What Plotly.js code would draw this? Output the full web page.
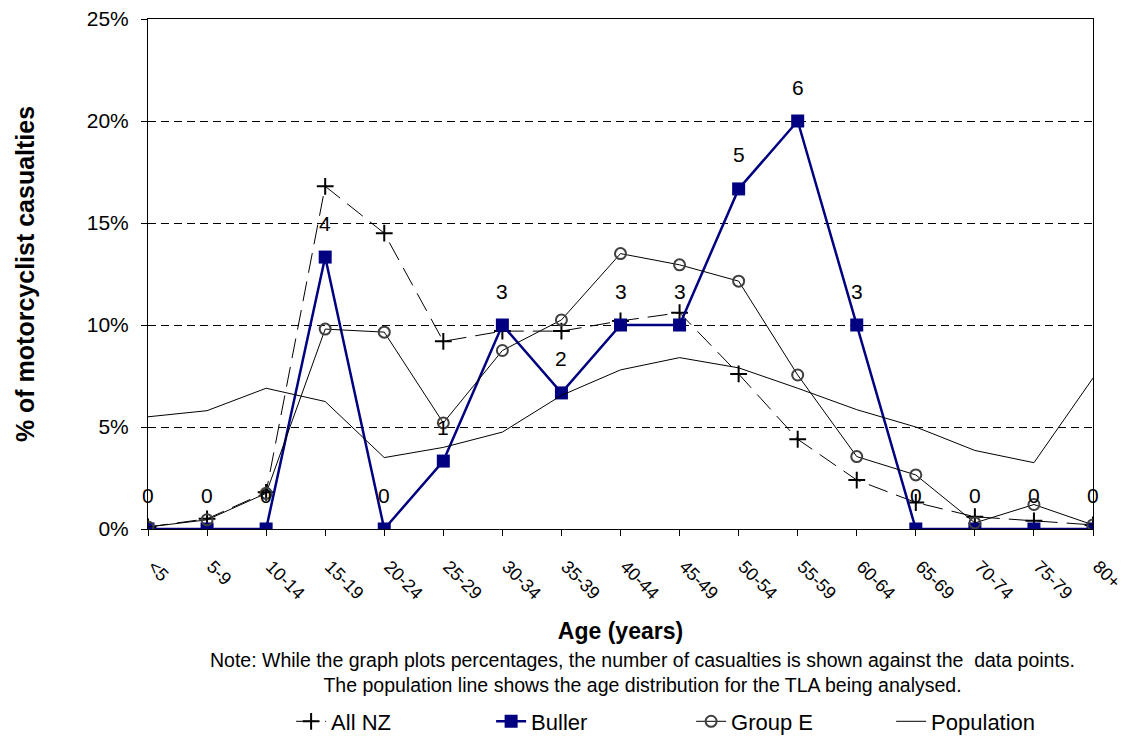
<!DOCTYPE html>
<html>
<head>
<meta charset="utf-8">
<script src="https://cdn.plot.ly/plotly-3.0.1.min.js"></script>
<style>html,body{margin:0;padding:0;background:#fff;}#chart{width:1124px;height:740px;}</style>
</head>
<body>
<div id="chart"></div>
<script>
const ageGroups = ["<5","5-9","10-14","15-19","20-24","25-29","30-34","35-39","40-44","45-49","50-54","55-59","60-64","65-69","70-74","75-79","80+"];
const allNZ = [0.1,0.5,1.8,16.8,14.5,9.2,9.7,9.7,10.2,10.6,7.6,4.4,2.4,1.3,0.6,0.4,0.2];
const buller = [0,0,0,13.33,0,3.33,10,6.67,10,10,16.67,20,10,0,0,0,0];
const bullerCounts = [0,0,0,4,0,1,3,2,3,3,5,6,3,0,0,0,0];
const groupE = [0.1,0.45,1.75,9.8,9.65,5.2,8.75,10.25,13.5,12.95,12.15,7.55,3.55,2.65,0.3,1.2,0.2];
const population = [5.5,5.8,6.9,6.25,3.5,4.0,4.75,6.55,7.8,8.4,7.9,6.9,5.85,5.0,3.85,3.25,7.4];
const seriesNames = ["All NZ","Buller","Group E","Population"];
const noteLines = ["Note: While the graph plots percentages, the number of casualties is shown against the  data points.","The population line shows the age distribution for the TLA being analysed."];

const FONT = "Liberation Sans, Arial, sans-serif";

const traces = [
  {x: ageGroups, y: allNZ, name: seriesNames[0], type: "scatter", mode: "lines+markers",
   line: {color: "#000", width: 1, dash: "20px,9px"},
   marker: {symbol: "cross-thin", size: 12, line: {color: "#000", width: 2}, color: "#000"}},
  {x: ageGroups, y: buller, name: seriesNames[1], type: "scatter", mode: "lines+markers",
   line: {color: "#000080", width: 2.5},
   marker: {symbol: "square", size: 13, color: "#000080"}},
  {x: ageGroups, y: groupE, name: seriesNames[2], type: "scatter", mode: "lines+markers",
   line: {color: "#000", width: 1},
   marker: {symbol: "circle-open", size: 11, line: {color: "#404040", width: 2}, color: "#404040"}},
  {x: ageGroups, y: population, name: seriesNames[3], type: "scatter", mode: "lines",
   line: {color: "#000", width: 1}}
];

const annotations = ageGroups.map((g, i) => ({
  x: g, y: buller[i], xref: "x", yref: "y", text: String(bullerCounts[i]),
  showarrow: false, yshift: 34, font: {family: FONT, size: 21, color: "#000"}
}));
annotations.push({
  xref: "paper", yref: "paper", x: 0.523, y: -0.282, xanchor: "center", yanchor: "middle",
  text: noteLines.join("<br>"), showarrow: false, align: "center",
  font: {family: FONT, size: 19.5, color: "#000"}
});

const layout = {
  width: 1124, height: 740,
  margin: {l: 148, r: 31, t: 19, b: 211},
  paper_bgcolor: "#fff", plot_bgcolor: "#fff",
  font: {family: FONT, color: "#000"},
  showlegend: true,
  legend: {orientation: "h", xref: "container", yref: "container", x: 0.259, xanchor: "left", y: 0.025, yanchor: "middle",
           font: {family: FONT, size: 22, color: "#000"}, entrywidth: 155, traceorder: "normal"},
  xaxis: {
    type: "category", range: [0, 16], showgrid: false,
    showline: true, linecolor: "#000", linewidth: 1, mirror: true,
    ticks: "outside", ticklen: 6, tickcolor: "#000", tickangle: 45,
    ticklabelstandoff: 13, ticklabelshift: 5,
    tickfont: {family: FONT, size: 18, color: "#000"},
    title: {text: "<b>Age (years)</b>", font: {family: FONT, size: 23, color: "#000"}, standoff: 20},
    automargin: false, zeroline: false
  },
  yaxis: {
    range: [0, 25], dtick: 5, ticksuffix: "%",
    showgrid: true, gridcolor: "#000", gridwidth: 1, griddash: "8px,5px",
    showline: true, linecolor: "#000", linewidth: 1, mirror: true,
    ticks: "outside", ticklen: 6, tickcolor: "#000", ticklabelstandoff: 8,
    tickfont: {family: FONT, size: 21, color: "#000"},
    title: {text: "<b>% of motorcyclist casualties</b>", font: {family: FONT, size: 25, color: "#000"}, standoff: 45},
    automargin: false, zeroline: false
  },
  annotations: annotations
};

Plotly.newPlot("chart", traces, layout, {displayModeBar: false, staticPlot: true});
</script>
</body>
</html>
